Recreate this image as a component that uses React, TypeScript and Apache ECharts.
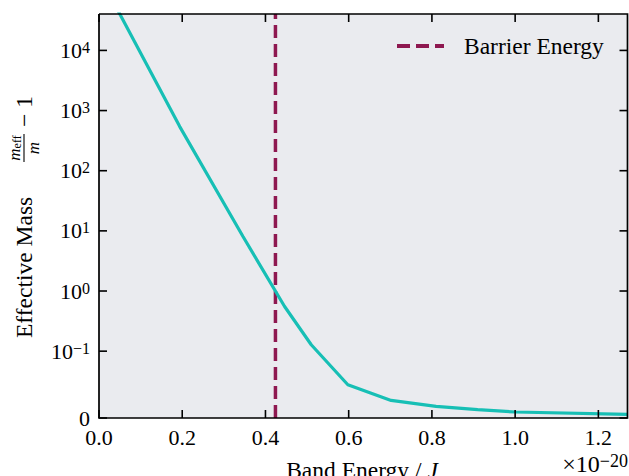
import React, { useEffect, useRef } from "react";
import * as echarts from "echarts";

// ---- data ----
const bandEnergy = [0.03, 0.05, 0.194, 0.346, 0.446, 0.51, 0.598, 0.702, 0.81, 0.91, 1.0, 1.27];
const massRatio = [73000, 40300, 541, 8.05, 0.553, 0.128, 0.0498, 0.0263, 0.0173, 0.0125, 0.009, 0.0054];
const barrierEnergy = 0.424;
const xTicks = [0, 0.2, 0.4, 0.6, 0.8, 1.0, 1.2];
const xMin = 0;
const xMax = 1.27;
const yTickValues = [0, 0.1, 1, 10, 100, 1000, 10000];
const yTickLabels = ["0", "{b|10}{s|\u22121}", "{b|10}{s|0}", "{b|10}{s|1}", "{b|10}{s|2}", "{b|10}{s|3}", "{b|10}{s|4}"];
const yMaxValue = 40300;

// symmetric-log transform (linthresh 0.1, linscale 1, base 10)
const LINTHRESH = 0.1;
const LINSCALE = 1 / (1 - 1 / 10);
function symlog(v: number): number {
  const a = Math.abs(v);
  const s = v < 0 ? -1 : 1;
  if (a <= LINTHRESH) return (v / LINTHRESH) * LINSCALE;
  return s * (LINSCALE + Math.log10(a / LINTHRESH));
}

const FONT = '"Liberation Serif", "DejaVu Serif", serif';
const TEAL = "#17bfb5";
const MAGENTA = "#8e1850";
const TICK_LEN = 8;
const GRID = { left: 99, right: 1.5, top: 14, bottom: 58 };
const W = 629;
const H = 476;

export default function App() {
  const ref = useRef<HTMLDivElement>(null);
  useEffect(() => {
    if (!ref.current) return;
    const chart = echarts.init(ref.current, undefined, { renderer: "svg" });
    const yTickPos = yTickValues.map(symlog);
    const yTop = symlog(yMaxValue);
    const labelFor = (val: number) => {
      let best = 0;
      let d = Infinity;
      yTickPos.forEach((p, i) => {
        if (Math.abs(p - val) < d) {
          d = Math.abs(p - val);
          best = i;
        }
      });
      return yTickLabels[best];
    };
    const tickStyle = { stroke: "#000", lineWidth: 1.6 };
    const gx0 = GRID.left;
    const gy0 = GRID.top;
    const gx1 = W - GRID.right;
    const gy1 = H - GRID.bottom;
    const option: any = {
      animation: false,
      grid: { ...GRID, show: false },
      legend: {
        data: ["Barrier Energy"],
        left: 397,
        top: 34,
        padding: 0,
        icon: "path://M0,0h13v4h-13z M19,0h13v4h-13z M38,0h9v4h-9z",
        itemWidth: 47,
        itemHeight: 4,
        itemStyle: { color: MAGENTA, borderWidth: 0 },
        textStyle: { fontFamily: FONT, fontSize: 23.5, color: "#000", padding: [0, 0, 0, 15] },
      },
      xAxis: {
        type: "value",
        min: xMin,
        max: xMax,
        position: "bottom",
        axisLine: { show: false },
        axisTick: { show: false },
        splitLine: { show: false },
        axisLabel: {
          customValues: xTicks,
          formatter: (v: number) => v.toFixed(1),
          fontFamily: FONT,
          fontSize: 22,
          color: "#000",
          margin: 8,
        },
      },
      yAxis: {
        type: "value",
        min: 0,
        max: yTop,
        position: "left",
        axisLine: { show: false },
        axisTick: { show: false },
        splitLine: { show: false },
        axisLabel: {
          customValues: yTickPos,
          formatter: (v: number) => labelFor(v),
          fontFamily: FONT,
          color: "#000",
          margin: 9,
          rich: {
            b: { fontFamily: FONT, fontSize: 22, color: "#000" },
            s: { fontFamily: FONT, fontSize: 16, color: "#000", verticalAlign: "top" },
          },
          fontSize: 22,
        },
      },
      series: [
        {
          name: "Effective Mass",
          type: "line",
          symbol: "none",
          clip: true,
          data: bandEnergy.map((e, i) => [e, symlog(massRatio[i])]),
          lineStyle: { color: TEAL, width: 3.2 },
          itemStyle: { color: TEAL },
          z: 3,
        },
        {
          name: "Barrier Energy",
          type: "line",
          symbol: "none",
          clip: true,
          data: [
            [barrierEnergy, 0],
            [barrierEnergy, yTop],
          ],
          lineStyle: { color: MAGENTA, width: 3.5, type: [13, 6] },
          itemStyle: { color: MAGENTA },
          z: 2,
        },
        {
          name: "xTicks",
          type: "custom",
          clip: false,
          silent: true,
          z: 10,
          data: xTicks.map((v) => [v, 0]),
          renderItem: (_params: any, api: any) => {
            const v = api.value(0);
            const b = api.coord([v, 0]);
            const t = api.coord([v, yTop]);
            return {
              type: "group",
              children: [
                { type: "line", shape: { x1: b[0], y1: b[1], x2: b[0], y2: b[1] - TICK_LEN }, style: tickStyle },
                { type: "line", shape: { x1: t[0], y1: t[1], x2: t[0], y2: t[1] + TICK_LEN }, style: tickStyle },
              ],
            };
          },
        },
        {
          name: "yTicks",
          type: "custom",
          clip: false,
          silent: true,
          z: 10,
          data: yTickPos.map((v) => [0, v]),
          renderItem: (_params: any, api: any) => {
            const v = api.value(1);
            const l = api.coord([xMin, v]);
            const r = api.coord([xMax, v]);
            return {
              type: "group",
              children: [
                { type: "line", shape: { x1: l[0], y1: l[1], x2: l[0] + TICK_LEN, y2: l[1] }, style: tickStyle },
                { type: "line", shape: { x1: r[0], y1: r[1], x2: r[0] - TICK_LEN, y2: r[1] }, style: tickStyle },
              ],
            };
          },
        },
      ],
      graphic: [
        {
          type: "rect",
          z: -100,
          silent: true,
          shape: { x: gx0, y: gy0, width: gx1 - gx0, height: gy1 - gy0 },
          style: { fill: "#eaebef" },
        },
        {
          type: "polyline",
          z: 100,
          silent: true,
          shape: {
            points: [
              [gx0, gy0],
              [gx1, gy0],
              [gx1, gy1],
              [gx0, gy1],
              [gx0, gy0],
            ],
          },
          style: { stroke: "#000", lineWidth: 1.7, fill: "none" },
        },
        {
          type: "group",
          x: 24,
          y: 338,
          rotation: Math.PI / 2,
          children: [
            {
              type: "text",
              x: 0,
              y: 0,
              style: { text: "Effective Mass", font: `23.5px ${FONT}`, fill: "#000", align: "left", verticalAlign: "middle" },
            },
            {
              type: "text",
              x: 190,
              y: -1,
              style: {
                text: "{i|m}{e|eff}",
                align: "center",
                verticalAlign: "bottom",
                rich: {
                  i: { fontFamily: FONT, fontStyle: "italic", fontSize: 17, color: "#000" },
                  e: { fontFamily: FONT, fontSize: 12, color: "#000", verticalAlign: "bottom" },
                },
              },
            },
            {
              type: "line",
              shape: { x1: 176, y1: 0, x2: 204, y2: 0 },
              style: { stroke: "#000", lineWidth: 1.1 },
            },
            {
              type: "text",
              x: 190,
              y: 1,
              style: { text: "m", font: `italic 17px ${FONT}`, fill: "#000", align: "center", verticalAlign: "top" },
            },
            {
              type: "text",
              x: 211,
              y: 0,
              style: { text: "\u2212 1", font: `23.5px ${FONT}`, fill: "#000", align: "left", verticalAlign: "middle" },
            },
          ],
        },
        {
          type: "text",
          x: 362,
          y: 458,
          style: {
            text: "{r|Band Energy / }{i|J}",
            align: "center",
            verticalAlign: "top",
            rich: {
              r: { fontFamily: FONT, fontSize: 23.5, color: "#000" },
              i: { fontFamily: FONT, fontSize: 23.5, fontStyle: "italic", color: "#000" },
            },
          },
        },
        {
          type: "text",
          x: 628,
          y: 452,
          style: {
            text: "{b|\u00d710}{s|\u221220}",
            align: "right",
            verticalAlign: "top",
            rich: {
              b: { fontFamily: FONT, fontSize: 24, color: "#000" },
              s: { fontFamily: FONT, fontSize: 18, color: "#000", verticalAlign: "top" },
            },
          },
        },
      ],
    };
    chart.setOption(option);
    return () => chart.dispose();
  }, []);
  return (
    <div ref={ref} style={{ position: "fixed", left: 0, top: 0, width: W, height: H, background: "#fff" }} />
  );
}
